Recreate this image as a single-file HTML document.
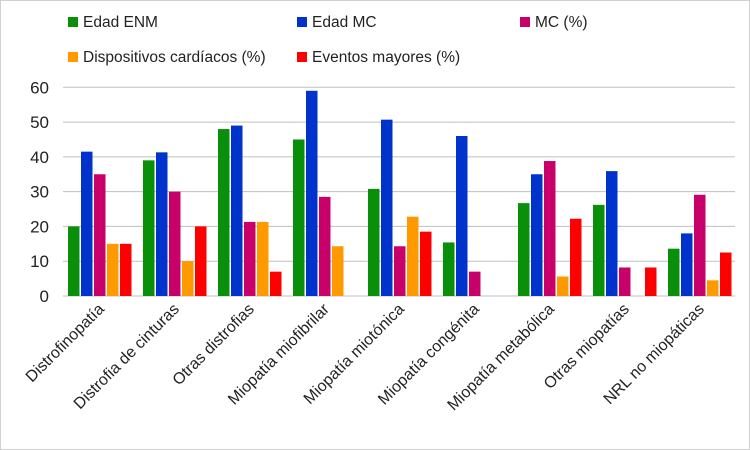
<!DOCTYPE html>
<html><head><meta charset="utf-8"><style>
body{margin:0;background:#fff}
svg{display:block;font-family:"Liberation Sans",sans-serif}
</style></head><body>
<svg width="750" height="450">
<rect x="0.5" y="0.5" width="749" height="449" fill="#fff" stroke="#d0d0d0"/>
<g id="grid"></g><g id="bars"></g><g id="labels"></g><g id="legend"></g>
</svg>
<script>
const categories=["Distrofinopatía","Distrofia de cinturas","Otras distrofias","Miopatía miofibrilar","Miopatía miotónica","Miopatía congénita","Miopatía metabólica","Otras miopatías","NRL no miopáticas"];
const edadENM=[20,39,48,45,30.8,15.4,26.7,26.2,13.6];
const edadMC=[41.5,41.3,49,59,50.7,46,35,35.9,18];
const mcPct=[35,30,21.3,28.5,14.3,7,38.8,8.2,29.1];
const dispositivos=[15,10,21.3,14.3,22.8,0,5.6,0,4.5];
const eventos=[15,20,7,0,18.5,0,22.2,8.2,12.5];
const yTicks=[0,10,20,30,40,50,60];
const seriesNames=["Edad ENM","Edad MC","MC (%)","Dispositivos cardíacos (%)","Eventos  mayores (%)"];
const series=[edadENM,edadMC,mcPct,dispositivos,eventos];
const colors=["#0a8f0a","#0033cc","#c8006a","#ff9900","#ff0000"];
const ns="http://www.w3.org/2000/svg";
const x0=57,gw=75,y0=296,yTop=87.3;
const y=v=>y0-(v/60)*(y0-yTop);
function mk(t,a,p){const e=document.createElementNS(ns,t);for(const k in a)e.setAttribute(k,a[k]);p.appendChild(e);return e;}
const G=document.getElementById('grid');
yTicks.forEach(t=>{
 const l=mk('line',{x1:63,x2:735,y1:y(t),y2:y(t),stroke:'#bfbfbf','stroke-width':1},G);
 
 
 const tx=mk('text',{x:49,y:y(t)+6,'text-anchor':'end','font-size':17,fill:'#222'},G);
 tx.textContent=t;
 
 
});
const B=document.getElementById('bars');
categories.forEach((c,i)=>{
 series.forEach((s,j)=>{
  const v=s[i]; if(!v) return;
  const r=mk('rect',{x:x0+gw*i+11+j*13,y:y(v),width:11.5,height:y0-y(v),fill:colors[j]},B);
  
  
 });
 const cx=x0+gw*i+48;
 const t=mk('text',{x:cx,y:310,'text-anchor':'end','font-size':16,fill:'#222',transform:`rotate(-45 ${cx} 310)`},document.getElementById('labels'));
 t.textContent=c;
 
 
});
const L=document.getElementById('legend');
const pos=[[68,22],[297,22],[520,22],[68,57],[297,57]];
seriesNames.forEach((n,j)=>{
 const g=mk('g',{},L);
 
 
 mk('rect',{x:pos[j][0],y:pos[j][1]-5,width:10,height:10,fill:colors[j]},g);
 const t=mk('text',{x:pos[j][0]+15,y:pos[j][1]+5,'font-size':15.5,fill:'#222'},g);
 t.textContent=n;
});
</script>
</body></html>
